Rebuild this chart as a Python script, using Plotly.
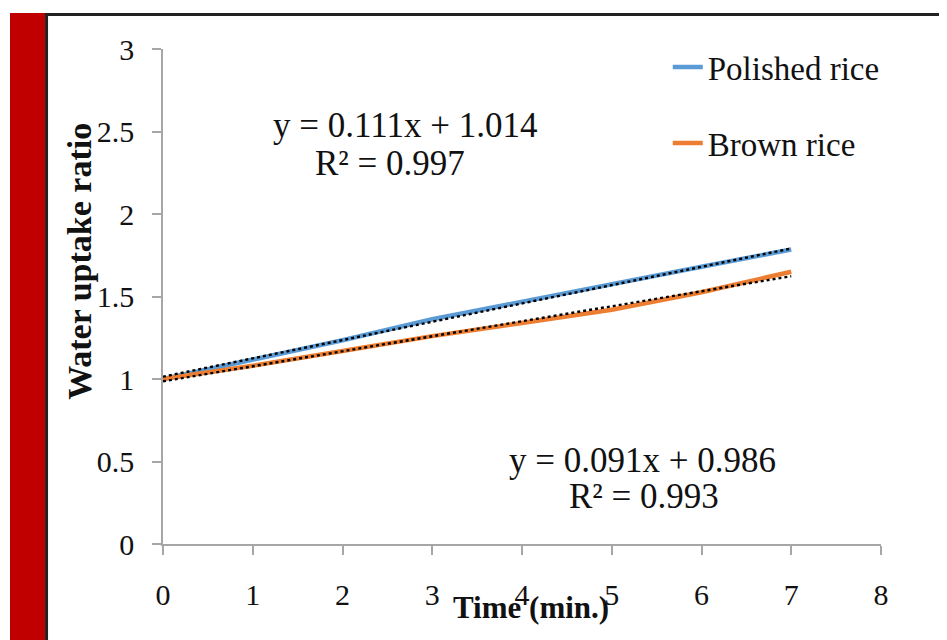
import plotly.graph_objects as go

# ---- data ----
time_min = [0, 1, 2, 3, 4, 5, 6, 7]
polished_rice = [1.00, 1.12, 1.235, 1.362, 1.47, 1.575, 1.68, 1.785]
brown_rice = [1.00, 1.08, 1.17, 1.26, 1.34, 1.42, 1.526, 1.65]
series_names = ["Polished rice", "Brown rice"]
trend_slopes = [0.111, 0.091]
trend_intercepts = [1.014, 0.986]
trend_r2 = [0.997, 0.993]
x_ticks = [0, 1, 2, 3, 4, 5, 6, 7, 8]
y_ticks = [0, 0.5, 1, 1.5, 2, 2.5, 3]
y_tick_text = ["0", "0.5", "1", "1.5", "2", "2.5", "3"]

colors = ["#5B9BD5", "#ED7D31"]
FONT = "Liberation Serif"

fig = go.Figure()
for i, (name, vals) in enumerate(zip(series_names, [polished_rice, brown_rice])):
    fig.add_trace(go.Scatter(
        x=time_min, y=vals, mode="lines", name=name,
        line=dict(color=colors[i], width=4.5),
        legendgroup=name, showlegend=True,
    ))
for i in range(2):
    trend = [trend_slopes[i] * t + trend_intercepts[i] for t in time_min]
    fig.add_trace(go.Scatter(
        x=time_min, y=trend, mode="lines",
        line=dict(color="black", width=2.4, dash="dot"),
        showlegend=False, hoverinfo="skip",
    ))

axis_common = dict(
    showline=True, linecolor="#A6A6A6", linewidth=1.5,
    ticks="outside", ticklen=9, tickcolor="#A6A6A6", tickwidth=1.5,
    showgrid=False, zeroline=False,
    tickfont=dict(family=FONT, size=30, color="#111111"),
)

fig.update_xaxes(range=[0, 8], tickvals=x_ticks, ticklabelstandoff=14, **axis_common)
fig.update_yaxes(range=[0, 3], tickvals=y_ticks, ticktext=y_tick_text, ticklabelstandoff=12, **axis_common)

# equation annotations (one per text line)
eq_font = dict(family=FONT, size=35, color="#111111")
eq_pos = [((2.696, 2.539), (2.529, 2.309)), ((5.348, 0.509), (5.359, 0.285))]
for i in range(2):
    (x1, y1), (x2, y2) = eq_pos[i]
    fig.add_annotation(x=x1, y=y1, xref="x", yref="y", showarrow=False,
                       xanchor="center", yanchor="middle",
                       text=f"y = {trend_slopes[i]}x + {trend_intercepts[i]}", font=eq_font)
    fig.add_annotation(x=x2, y=y2, xref="x", yref="y", showarrow=False,
                       xanchor="center", yanchor="middle",
                       text=f"R² = {trend_r2[i]}", font=eq_font)

# axis titles as annotations (overlapping the tick labels like the original)
fig.add_annotation(
    x=-0.1156, y=0.572, xref="paper", yref="paper", showarrow=False, textangle=-90,
    xanchor="center", yanchor="middle",
    text="<b>Water uptake ratio</b>", font=dict(family=FONT, size=34, color="#111111"),
)
fig.add_annotation(
    x=0.5125, y=-0.129, xref="paper", yref="paper", showarrow=False,
    xanchor="center", yanchor="middle",
    text="<b>Time (min.)</b>", font=dict(family=FONT, size=31, color="#111111"),
)

# decorative frame: red bar and black border lines
fig.add_shape(type="rect", xref="paper", yref="paper",
              x0=-0.2131, x1=-0.1643, y0=-0.25, y1=1.0727,
              fillcolor="#C00000", line=dict(width=0), layer="below")
fig.add_shape(type="line", xref="paper", yref="paper",
              x0=-0.1622, x1=-0.1622, y0=-0.25, y1=1.0707,
              line=dict(color="#222222", width=3))
fig.add_shape(type="line", xref="paper", yref="paper",
              x0=-0.1643, x1=1.12, y0=1.0697, y1=1.0697,
              line=dict(color="#222222", width=3))

fig.update_layout(
    width=947, height=640,
    margin=dict(l=155, r=74, t=41, b=104),
    paper_bgcolor="white", plot_bgcolor="white",
    showlegend=True,
    legend=dict(
        x=0.703, y=1.02, xanchor="left", yanchor="top",
        font=dict(family=FONT, size=33, color="#111111"),
        tracegroupgap=30, traceorder="grouped",
        bgcolor="rgba(0,0,0,0)",
    ),
)

fig.write_html("out.html")
